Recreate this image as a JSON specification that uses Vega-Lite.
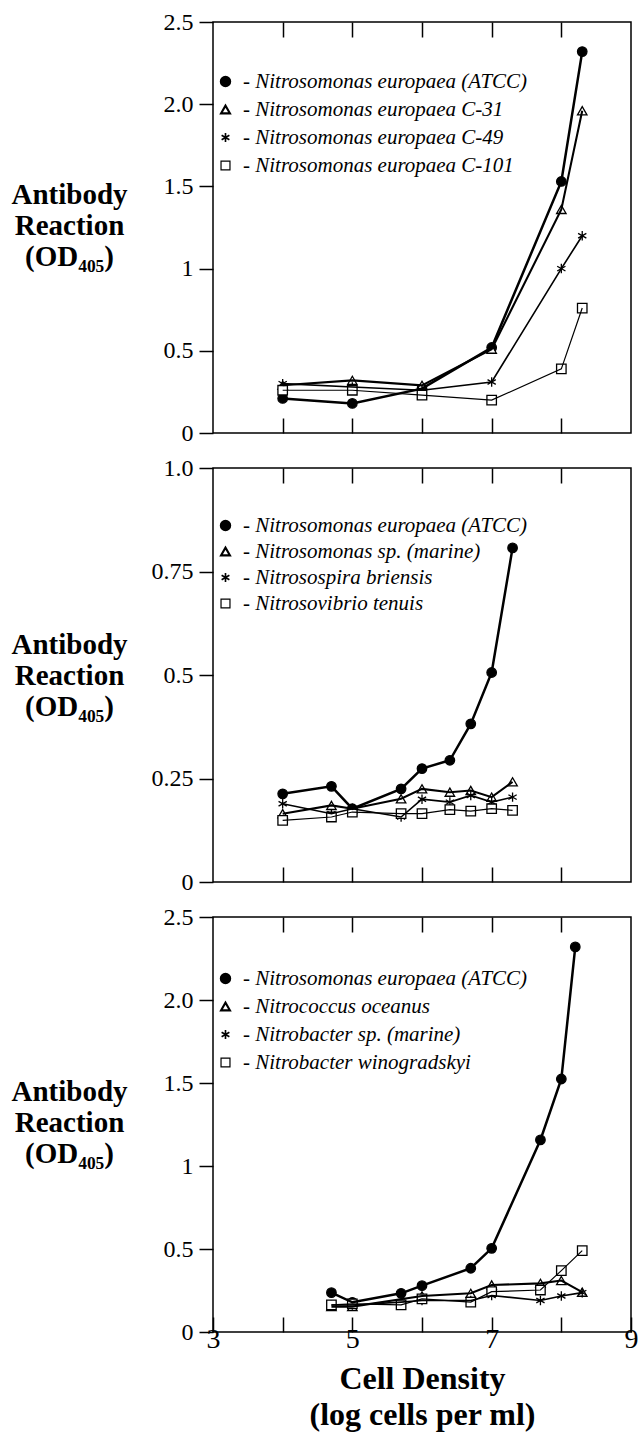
{
  "$schema": "https://vega.github.io/schema/vega-lite/v6.json",
  "background": "white",
  "padding": {"left": 10, "top": 9, "right": 5, "bottom": 5},
  "spacing": 35,
  "bounds": "flush",
  "datasets": {
    "p1": [
      {"series": "Nitrosomonas europaea (ATCC)", "x": 4, "y": 0.21},
      {"series": "Nitrosomonas europaea (ATCC)", "x": 5, "y": 0.18},
      {"series": "Nitrosomonas europaea (ATCC)", "x": 6, "y": 0.27},
      {"series": "Nitrosomonas europaea (ATCC)", "x": 7, "y": 0.52},
      {"series": "Nitrosomonas europaea (ATCC)", "x": 8, "y": 1.53},
      {"series": "Nitrosomonas europaea (ATCC)", "x": 8.3, "y": 2.32},
      {"series": "Nitrosomonas europaea C-31", "x": 4, "y": 0.29},
      {"series": "Nitrosomonas europaea C-31", "x": 5, "y": 0.32},
      {"series": "Nitrosomonas europaea C-31", "x": 6, "y": 0.29},
      {"series": "Nitrosomonas europaea C-31", "x": 7, "y": 0.51},
      {"series": "Nitrosomonas europaea C-31", "x": 8, "y": 1.36},
      {"series": "Nitrosomonas europaea C-31", "x": 8.3, "y": 1.96},
      {"series": "Nitrosomonas europaea C-49", "x": 4, "y": 0.30},
      {"series": "Nitrosomonas europaea C-49", "x": 5, "y": 0.28},
      {"series": "Nitrosomonas europaea C-49", "x": 6, "y": 0.26},
      {"series": "Nitrosomonas europaea C-49", "x": 7, "y": 0.31},
      {"series": "Nitrosomonas europaea C-49", "x": 8, "y": 1.0},
      {"series": "Nitrosomonas europaea C-49", "x": 8.3, "y": 1.2},
      {"series": "Nitrosomonas europaea C-101", "x": 4, "y": 0.26},
      {"series": "Nitrosomonas europaea C-101", "x": 5, "y": 0.26},
      {"series": "Nitrosomonas europaea C-101", "x": 6, "y": 0.23},
      {"series": "Nitrosomonas europaea C-101", "x": 7, "y": 0.20},
      {"series": "Nitrosomonas europaea C-101", "x": 8, "y": 0.39},
      {"series": "Nitrosomonas europaea C-101", "x": 8.3, "y": 0.76}
    ],
    "p2": [
      {"series": "Nitrosomonas europaea (ATCC)", "x": 4, "y": 0.213},
      {"series": "Nitrosomonas europaea (ATCC)", "x": 4.7, "y": 0.231},
      {"series": "Nitrosomonas europaea (ATCC)", "x": 5, "y": 0.177},
      {"series": "Nitrosomonas europaea (ATCC)", "x": 5.7, "y": 0.225},
      {"series": "Nitrosomonas europaea (ATCC)", "x": 6, "y": 0.274},
      {"series": "Nitrosomonas europaea (ATCC)", "x": 6.4, "y": 0.294},
      {"series": "Nitrosomonas europaea (ATCC)", "x": 6.7, "y": 0.382},
      {"series": "Nitrosomonas europaea (ATCC)", "x": 7, "y": 0.506},
      {"series": "Nitrosomonas europaea (ATCC)", "x": 7.3, "y": 0.807},
      {"series": "Nitrosomonas sp. (marine)", "x": 4, "y": 0.165},
      {"series": "Nitrosomonas sp. (marine)", "x": 4.7, "y": 0.185},
      {"series": "Nitrosomonas sp. (marine)", "x": 5, "y": 0.177},
      {"series": "Nitrosomonas sp. (marine)", "x": 5.7, "y": 0.201},
      {"series": "Nitrosomonas sp. (marine)", "x": 6, "y": 0.225},
      {"series": "Nitrosomonas sp. (marine)", "x": 6.4, "y": 0.217},
      {"series": "Nitrosomonas sp. (marine)", "x": 6.7, "y": 0.221},
      {"series": "Nitrosomonas sp. (marine)", "x": 7, "y": 0.205},
      {"series": "Nitrosomonas sp. (marine)", "x": 7.3, "y": 0.242},
      {"series": "Nitrosospira briensis", "x": 4, "y": 0.189},
      {"series": "Nitrosospira briensis", "x": 4.7, "y": 0.165},
      {"series": "Nitrosospira briensis", "x": 5, "y": 0.177},
      {"series": "Nitrosospira briensis", "x": 5.7, "y": 0.157},
      {"series": "Nitrosospira briensis", "x": 6, "y": 0.200},
      {"series": "Nitrosospira briensis", "x": 6.4, "y": 0.193},
      {"series": "Nitrosospira briensis", "x": 6.7, "y": 0.209},
      {"series": "Nitrosospira briensis", "x": 7, "y": 0.193},
      {"series": "Nitrosospira briensis", "x": 7.3, "y": 0.205},
      {"series": "Nitrosovibrio tenuis", "x": 4, "y": 0.149},
      {"series": "Nitrosovibrio tenuis", "x": 4.7, "y": 0.157},
      {"series": "Nitrosovibrio tenuis", "x": 5, "y": 0.169},
      {"series": "Nitrosovibrio tenuis", "x": 5.7, "y": 0.165},
      {"series": "Nitrosovibrio tenuis", "x": 6, "y": 0.165},
      {"series": "Nitrosovibrio tenuis", "x": 6.4, "y": 0.175},
      {"series": "Nitrosovibrio tenuis", "x": 6.7, "y": 0.171},
      {"series": "Nitrosovibrio tenuis", "x": 7, "y": 0.177},
      {"series": "Nitrosovibrio tenuis", "x": 7.3, "y": 0.173}
    ],
    "p3": [
      {"series": "Nitrosomonas europaea (ATCC)", "x": 4.7, "y": 0.237},
      {"series": "Nitrosomonas europaea (ATCC)", "x": 5, "y": 0.179},
      {"series": "Nitrosomonas europaea (ATCC)", "x": 5.7, "y": 0.233},
      {"series": "Nitrosomonas europaea (ATCC)", "x": 6, "y": 0.279},
      {"series": "Nitrosomonas europaea (ATCC)", "x": 6.7, "y": 0.384},
      {"series": "Nitrosomonas europaea (ATCC)", "x": 7, "y": 0.504},
      {"series": "Nitrosomonas europaea (ATCC)", "x": 7.7, "y": 1.157},
      {"series": "Nitrosomonas europaea (ATCC)", "x": 8, "y": 1.524},
      {"series": "Nitrosomonas europaea (ATCC)", "x": 8.2, "y": 2.32},
      {"series": "Nitrococcus oceanus", "x": 4.7, "y": 0.153},
      {"series": "Nitrococcus oceanus", "x": 5, "y": 0.153},
      {"series": "Nitrococcus oceanus", "x": 6, "y": 0.217},
      {"series": "Nitrococcus oceanus", "x": 6.7, "y": 0.233},
      {"series": "Nitrococcus oceanus", "x": 7, "y": 0.283},
      {"series": "Nitrococcus oceanus", "x": 7.7, "y": 0.293},
      {"series": "Nitrococcus oceanus", "x": 8, "y": 0.31},
      {"series": "Nitrococcus oceanus", "x": 8.3, "y": 0.24},
      {"series": "Nitrobacter sp. (marine)", "x": 4.7, "y": 0.163},
      {"series": "Nitrobacter sp. (marine)", "x": 5, "y": 0.163},
      {"series": "Nitrobacter sp. (marine)", "x": 5.7, "y": 0.18},
      {"series": "Nitrobacter sp. (marine)", "x": 6, "y": 0.19},
      {"series": "Nitrobacter sp. (marine)", "x": 6.7, "y": 0.19},
      {"series": "Nitrobacter sp. (marine)", "x": 7, "y": 0.22},
      {"series": "Nitrobacter sp. (marine)", "x": 7.7, "y": 0.19},
      {"series": "Nitrobacter sp. (marine)", "x": 8, "y": 0.217},
      {"series": "Nitrobacter sp. (marine)", "x": 8.3, "y": 0.237},
      {"series": "Nitrobacter winogradskyi", "x": 4.7, "y": 0.163},
      {"series": "Nitrobacter winogradskyi", "x": 5, "y": 0.169},
      {"series": "Nitrobacter winogradskyi", "x": 5.7, "y": 0.163},
      {"series": "Nitrobacter winogradskyi", "x": 6, "y": 0.2},
      {"series": "Nitrobacter winogradskyi", "x": 6.7, "y": 0.18},
      {"series": "Nitrobacter winogradskyi", "x": 7, "y": 0.243},
      {"series": "Nitrobacter winogradskyi", "x": 7.7, "y": 0.253},
      {"series": "Nitrobacter winogradskyi", "x": 8, "y": 0.37},
      {"series": "Nitrobacter winogradskyi", "x": 8.3, "y": 0.49}
    ]
  },
  "vconcat": [
    {
      "width": 418, "height": 411,
      "data": {"name": "p1"},
      "layer": [
        {
          "mark": {"type": "point", "filled": true, "strokeWidth": 1.3, "opacity": 1},
          "encoding": {
            "x": {"field": "x", "type": "quantitative", "scale": {"domain": [3, 9], "nice": false, "zero": false},
                  "axis": {"orient": "bottom", "values": [4, 5, 6, 7, 8], "labels": false, "tickSize": -15, "domain": false, "title": null}},
            "y": {"field": "y", "type": "quantitative", "scale": {"domain": [0, 2.5], "nice": false},
                  "axis": {"values": [0, 0.5, 1, 1.5, 2, 2.5], "labelExpr": "datum.value == 0 ? '0' : datum.value == 1 ? '1' : format(datum.value, '.1f')", "tickSize": 14, "labelPadding": 6, "domain": false,
                           "title": ["Antibody", "Reaction", "(OD₄₀₅)"], "titleAngle": 0, "titleAlign": "center", "titleBaseline": "middle", "titleX": -144, "titleY": 172}},
            "stroke": {"field": "series", "type": "nominal",
                       "scale": {"domain": ["Nitrosomonas europaea (ATCC)", "Nitrosomonas europaea C-31", "Nitrosomonas europaea C-49", "Nitrosomonas europaea C-101"],
                                 "range": ["black", "black", "black", "black"]},
                       "legend": {"orient": "none", "legendX": 2, "legendY": 49, "direction": "vertical", "title": null, "labelExpr": "'- ' + datum.label"}},
            "shape": {"field": "series", "type": "nominal",
                      "scale": {"domain": ["Nitrosomonas europaea (ATCC)", "Nitrosomonas europaea C-31", "Nitrosomonas europaea C-49", "Nitrosomonas europaea C-101"],
                                "range": ["circle", "triangle-up", "M0,-1L0,1M-0.87,-0.5L0.87,0.5M-0.87,0.5L0.87,-0.5", "square"]},
                      "legend": {"orient": "none", "legendX": 2, "legendY": 49, "direction": "vertical", "title": null, "labelExpr": "'- ' + datum.label"}},
            "fill": {"field": "series", "type": "nominal",
                     "scale": {"domain": ["Nitrosomonas europaea (ATCC)", "Nitrosomonas europaea C-31", "Nitrosomonas europaea C-49", "Nitrosomonas europaea C-101"],
                               "range": ["black", "white", "black", "white"]},
                     "legend": {"orient": "none", "legendX": 2, "legendY": 49, "direction": "vertical", "title": null, "labelExpr": "'- ' + datum.label"}}
          }
        },
        {
          "mark": {"type": "line", "color": "black"},
          "encoding": {
            "x": {"field": "x", "type": "quantitative",
                  "axis": {"orient": "top", "values": [4, 5, 6, 7, 8], "labels": false, "tickSize": -15, "domain": false, "title": null}},
            "y": {"field": "y", "type": "quantitative",
                  "axis": {"values": [0, 0.5, 1, 1.5, 2, 2.5], "labelExpr": "datum.value == 0 ? '0' : datum.value == 1 ? '1' : format(datum.value, '.1f')", "tickSize": 14, "labelPadding": 6, "domain": false,
                           "title": ["Antibody", "Reaction", "(OD₄₀₅)"], "titleAngle": 0, "titleAlign": "center", "titleBaseline": "middle", "titleX": -144, "titleY": 172}},
            "strokeWidth": {"field": "series", "type": "nominal", "scale": {"domain": ["Nitrosomonas europaea (ATCC)", "Nitrosomonas europaea C-31", "Nitrosomonas europaea C-49", "Nitrosomonas europaea C-101"], "range": [2.5, 1.2, 1.2, 1.2]}, "legend": null}
          }
        }
      ],
      "resolve": {"axis": {"x": "independent"}}
    },
    {
      "width": 418, "height": 414,
      "data": {"name": "p2"},
      "layer": [
        {
          "mark": {"type": "point", "filled": true, "strokeWidth": 1.3, "opacity": 1},
          "encoding": {
            "x": {"field": "x", "type": "quantitative", "scale": {"domain": [3, 9], "nice": false, "zero": false},
                  "axis": {"orient": "bottom", "values": [4, 5, 6, 7, 8], "labels": false, "tickSize": -15, "domain": false, "title": null}},
            "y": {"field": "y", "type": "quantitative", "scale": {"domain": [0, 1], "nice": false},
                  "axis": {"values": [0, 0.25, 0.5, 0.75, 1], "labelExpr": "datum.value == 0 ? '0' : datum.value == 1 ? '1.0' : format(datum.value, '~g')", "tickSize": 14, "labelPadding": 6, "domain": false,
                           "title": ["Antibody", "Reaction", "(OD₄₀₅)"], "titleAngle": 0, "titleAlign": "center", "titleBaseline": "middle", "titleX": -144, "titleY": 176}},
            "stroke": {"field": "series", "type": "nominal",
                       "scale": {"domain": ["Nitrosomonas europaea (ATCC)", "Nitrosomonas sp. (marine)", "Nitrosospira briensis", "Nitrosovibrio tenuis"],
                                 "range": ["black", "black", "black", "black"]},
                       "legend": {"orient": "none", "legendX": 2, "legendY": 47, "direction": "vertical", "title": null, "rowPadding": 4, "labelExpr": "'- ' + datum.label"}},
            "shape": {"field": "series", "type": "nominal",
                      "scale": {"domain": ["Nitrosomonas europaea (ATCC)", "Nitrosomonas sp. (marine)", "Nitrosospira briensis", "Nitrosovibrio tenuis"],
                                "range": ["circle", "triangle-up", "M0,-1L0,1M-0.87,-0.5L0.87,0.5M-0.87,0.5L0.87,-0.5", "square"]},
                      "legend": {"orient": "none", "legendX": 2, "legendY": 47, "direction": "vertical", "title": null, "rowPadding": 4, "labelExpr": "'- ' + datum.label"}},
            "fill": {"field": "series", "type": "nominal",
                     "scale": {"domain": ["Nitrosomonas europaea (ATCC)", "Nitrosomonas sp. (marine)", "Nitrosospira briensis", "Nitrosovibrio tenuis"],
                               "range": ["black", "white", "black", "white"]},
                     "legend": {"orient": "none", "legendX": 2, "legendY": 47, "direction": "vertical", "title": null, "rowPadding": 4, "labelExpr": "'- ' + datum.label"}}
          }
        },
        {
          "mark": {"type": "line", "color": "black"},
          "encoding": {
            "x": {"field": "x", "type": "quantitative",
                  "axis": {"orient": "top", "values": [4, 5, 6, 7, 8], "labels": false, "tickSize": -15, "domain": false, "title": null}},
            "y": {"field": "y", "type": "quantitative",
                  "axis": {"values": [0, 0.25, 0.5, 0.75, 1], "labelExpr": "datum.value == 0 ? '0' : datum.value == 1 ? '1.0' : format(datum.value, '~g')", "tickSize": 14, "labelPadding": 6, "domain": false,
                           "title": ["Antibody", "Reaction", "(OD₄₀₅)"], "titleAngle": 0, "titleAlign": "center", "titleBaseline": "middle", "titleX": -144, "titleY": 176}},
            "strokeWidth": {"field": "series", "type": "nominal", "scale": {"domain": ["Nitrosomonas europaea (ATCC)", "Nitrosomonas sp. (marine)", "Nitrosospira briensis", "Nitrosovibrio tenuis"], "range": [2.5, 1.2, 1.2, 1.2]}, "legend": null}
          }
        }
      ],
      "resolve": {"axis": {"x": "independent"}}
    },
    {
      "width": 418, "height": 415,
      "data": {"name": "p3"},
      "layer": [
        {
          "mark": {"type": "point", "filled": true, "strokeWidth": 1.3, "opacity": 1},
          "encoding": {
            "x": {"field": "x", "type": "quantitative", "scale": {"domain": [3, 9], "nice": false, "zero": false},
                  "axis": {"orient": "bottom", "values": [3, 4, 5, 6, 7, 8, 9], "labelExpr": "datum.value % 2 == 1 ? datum.label : ''", "labelFlush": false, "labelFontSize": 28, "tickSize": -15, "labelPadding": 8, "domain": false,
                           "title": ["Cell Density", "(log cells per ml)"], "titleFontSize": 32, "titleFontWeight": "bold", "titleLineHeight": 36, "titlePadding": 10}},
            "y": {"field": "y", "type": "quantitative", "scale": {"domain": [0, 2.5], "nice": false},
                  "axis": {"values": [0, 0.5, 1, 1.5, 2, 2.5], "labelExpr": "datum.value == 0 ? '0' : datum.value == 1 ? '1' : format(datum.value, '.1f')", "tickSize": 14, "labelPadding": 6, "domain": false,
                           "title": ["Antibody", "Reaction", "(OD₄₀₅)"], "titleAngle": 0, "titleAlign": "center", "titleBaseline": "middle", "titleX": -144, "titleY": 174}},
            "stroke": {"field": "series", "type": "nominal",
                       "scale": {"domain": ["Nitrosomonas europaea (ATCC)", "Nitrococcus oceanus", "Nitrobacter sp. (marine)", "Nitrobacter winogradskyi"],
                                 "range": ["black", "black", "black", "black"]},
                       "legend": {"orient": "none", "legendX": 2, "legendY": 51, "direction": "vertical", "title": null, "labelExpr": "'- ' + datum.label"}},
            "shape": {"field": "series", "type": "nominal",
                      "scale": {"domain": ["Nitrosomonas europaea (ATCC)", "Nitrococcus oceanus", "Nitrobacter sp. (marine)", "Nitrobacter winogradskyi"],
                                "range": ["circle", "triangle-up", "M0,-1L0,1M-0.87,-0.5L0.87,0.5M-0.87,0.5L0.87,-0.5", "square"]},
                      "legend": {"orient": "none", "legendX": 2, "legendY": 51, "direction": "vertical", "title": null, "labelExpr": "'- ' + datum.label"}},
            "fill": {"field": "series", "type": "nominal",
                     "scale": {"domain": ["Nitrosomonas europaea (ATCC)", "Nitrococcus oceanus", "Nitrobacter sp. (marine)", "Nitrobacter winogradskyi"],
                               "range": ["black", "white", "black", "white"]},
                     "legend": {"orient": "none", "legendX": 2, "legendY": 51, "direction": "vertical", "title": null, "labelExpr": "'- ' + datum.label"}}
          }
        },
        {
          "mark": {"type": "line", "color": "black"},
          "encoding": {
            "x": {"field": "x", "type": "quantitative",
                  "axis": {"orient": "top", "values": [4, 5, 6, 7, 8], "labels": false, "tickSize": -15, "domain": false, "title": null}},
            "y": {"field": "y", "type": "quantitative",
                  "axis": {"values": [0, 0.5, 1, 1.5, 2, 2.5], "labelExpr": "datum.value == 0 ? '0' : datum.value == 1 ? '1' : format(datum.value, '.1f')", "tickSize": 14, "labelPadding": 6, "domain": false,
                           "title": ["Antibody", "Reaction", "(OD₄₀₅)"], "titleAngle": 0, "titleAlign": "center", "titleBaseline": "middle", "titleX": -144, "titleY": 174}},
            "strokeWidth": {"field": "series", "type": "nominal", "scale": {"domain": ["Nitrosomonas europaea (ATCC)", "Nitrococcus oceanus", "Nitrobacter sp. (marine)", "Nitrobacter winogradskyi"], "range": [2.5, 1.2, 1.2, 1.2]}, "legend": null}
          }
        }
      ],
      "resolve": {"axis": {"x": "independent"}}
    }
  ],
  "resolve": {
    "scale": {"shape": "independent", "fill": "independent", "stroke": "independent", "strokeWidth": "independent"},
    "legend": {"shape": "independent", "fill": "independent", "stroke": "independent"}
  },
  "config": {
    "view": {"stroke": "black", "strokeWidth": 1.5},
    "font": "Liberation Serif",
    "point": {"size": 90},
    "axis": {"grid": false, "tickColor": "black", "tickWidth": 1.5, "labelFont": "Liberation Serif", "labelFontSize": 24, "labelColor": "black",
             "titleFont": "Liberation Serif", "titleColor": "black", "titleFontSize": 29, "titleFontWeight": "bold", "titleLineHeight": 31},
    "legend": {"labelFont": "Liberation Serif", "labelFontSize": 21, "labelFontStyle": "italic", "labelColor": "black",
               "labelLimit": 400, "labelOffset": 7, "rowPadding": 6, "symbolSize": 80, "symbolStrokeWidth": 1.3}
  }
}
